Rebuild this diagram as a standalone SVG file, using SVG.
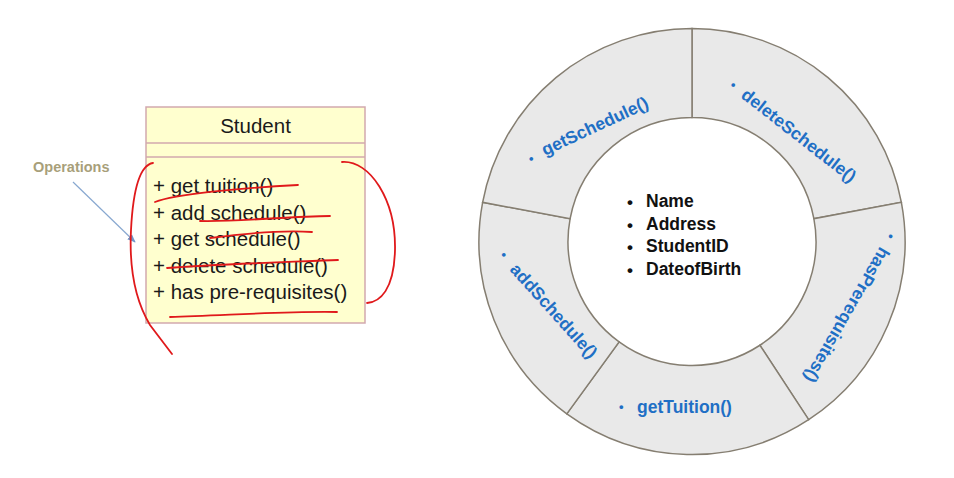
<svg xmlns="http://www.w3.org/2000/svg" width="954" height="478" viewBox="0 0 954 478">
<style>
.uml{fill:#ffffcf;stroke:#d2a9ae;stroke-width:1.5}
.op{font-family:"Liberation Sans",Arial,sans-serif;font-size:20.5px;fill:#1a1a1a}
.seg{fill:#e9e9e9;stroke:#857e71;stroke-width:1.5}
.lbl{font-family:"Liberation Sans",Arial,sans-serif;font-size:17.5px;font-weight:bold;fill:#1f6fc5}
.bul{font-size:13px}
.attr{font-family:"Liberation Sans",Arial,sans-serif;font-size:17.5px;font-weight:bold;fill:#111}
.ink{fill:none;stroke:#e0191b;stroke-width:1.8;stroke-linecap:round}
</style>
<defs>
<marker id="ah" viewBox="0 0 10 10" refX="9" refY="5" markerWidth="7" markerHeight="7" orient="auto">
<path d="M0,1 L10,5 L0,9 Z" fill="#6f94c8"/>
</marker>
</defs>
<rect width="954" height="478" fill="#fff"/>

<g id="student-class">
<rect class="uml" x="146" y="107" width="219" height="216"/>
<line class="uml" x1="146" y1="143" x2="365" y2="143"/>
<line class="uml" x1="146" y1="157" x2="365" y2="157"/>
<text class="op" x="255.5" y="133" text-anchor="middle">Student</text>
<text class="op" x="153" y="193">+ get tuition()</text>
<text class="op" x="153" y="219.5">+ add schedule()</text>
<text class="op" x="153" y="246">+ get schedule()</text>
<text class="op" x="153" y="272.5">+ delete schedule()</text>
<text class="op" x="153" y="299">+ has pre-requisites()</text>
</g>

<g id="operations-label">
<text x="33" y="172" font-family="'Liberation Sans',Arial,sans-serif" font-size="14.5" font-weight="bold" fill="#a89f7a">Operations</text>
</g>

<g id="connectors">
<line x1="73" y1="182" x2="135" y2="242" stroke="#88a8d0" stroke-width="1.2" marker-end="url(#ah)"/>
</g>

<g id="annotations">
<path class="ink" d="M153 163 C140 165 133 190 131 230 C129 270 135 300 150 325 L172 354"/>
<path class="ink" d="M342 162 C370 160 396 200 395 250 C394 290 380 302 367 303"/>
<path class="ink" d="M155 202 C175 194 240 188 298 185"/>
<path class="ink" d="M200 221 C240 222 290 216 330 216"/>
<path class="ink" d="M210 238 C240 234 280 230 312 232"/>
<path class="ink" d="M167 268 C220 264 290 262 338 260"/>
<path class="ink" d="M170 317 C220 316 280 311 337 312"/>
</g>

<g id="seg-deleteSchedule">
<path class="seg" d="M692,28.5 A213,213 0 0 1 901.37,202.32 L813.88,218.69 A124,124 0 0 0 692,117.5 Z"/>
<text class="lbl" transform="translate(740,97) rotate(38)"><tspan class="bul" x="-15" y="-1">•</tspan><tspan x="0" y="0">deleteSchedule()</tspan></text>
</g>
<g id="seg-hasPrerequisites">
<path class="seg" d="M901.37,202.32 A213,213 0 0 1 808.66,419.71 L759.91,345.25 A124,124 0 0 0 813.88,218.69 Z"/>
<text class="lbl" transform="translate(880,246) rotate(120)"><tspan class="bul" x="-16" y="0">•</tspan><tspan x="0" y="0">hasPrerequisites()</tspan></text>
</g>
<g id="seg-getTuition">
<path class="seg" d="M808.66,419.71 A213,213 0 0 1 566.8,413.82 L619.11,341.82 A124,124 0 0 0 759.91,345.25 Z"/>
<text class="lbl" x="637" y="413"><tspan class="bul" x="619" y="411">•</tspan><tspan x="637" y="413">getTuition()</tspan></text>
</g>
<g id="seg-addSchedule">
<path class="seg" d="M566.8,413.82 A213,213 0 0 1 482.63,202.32 L570.12,218.69 A124,124 0 0 0 619.11,341.82 Z"/>
<text class="lbl" transform="translate(509,270) rotate(48)"><tspan class="bul" x="-17" y="-2">•</tspan><tspan x="0" y="0">addSchedule()</tspan></text>
</g>
<g id="seg-getSchedule">
<path class="seg" d="M482.63,202.32 A213,213 0 0 1 692,28.5 L692,117.5 A124,124 0 0 0 570.12,218.69 Z"/>
<text class="lbl" transform="translate(545,156) rotate(-25)"><tspan class="bul" x="-16" y="1">•</tspan><tspan x="0" y="0">getSchedule()</tspan></text>
</g>

<g id="attributes">
<text class="attr"><tspan x="627" y="208" font-size="17">•</tspan><tspan x="646" y="207">Name</tspan></text>
<text class="attr"><tspan x="627" y="230.5" font-size="17">•</tspan><tspan x="646" y="229.5">Address</tspan></text>
<text class="attr"><tspan x="627" y="253" font-size="17">•</tspan><tspan x="646" y="252">StudentID</tspan></text>
<text class="attr"><tspan x="627" y="275.5" font-size="17">•</tspan><tspan x="646" y="274.5">DateofBirth</tspan></text>
</g>
</svg>
